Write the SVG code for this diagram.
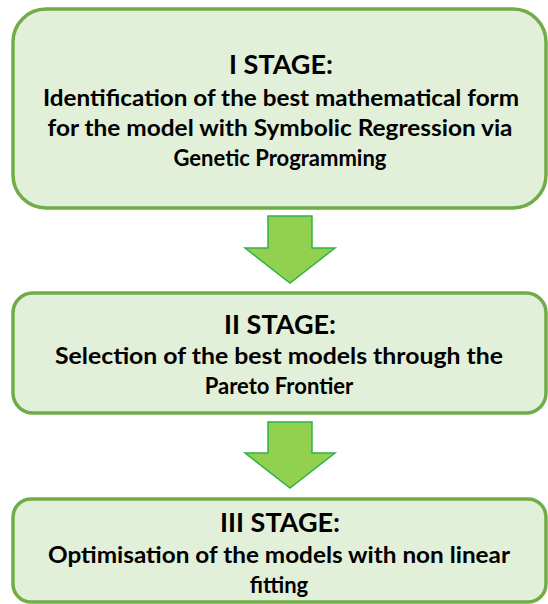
<svg xmlns="http://www.w3.org/2000/svg" width="548" height="604" viewBox="0 0 548 604">
<style>
.box{fill:#e2efd9;stroke:#70ad47;stroke-width:3.5}
.arrow{fill:#92d050;stroke:#2fb34a;stroke-width:1.5;stroke-linejoin:miter}
text{font-family:Lato,"Open Sans","Liberation Sans",sans-serif;font-weight:bold;fill:#000;text-anchor:middle}
.t{font-size:27px}
.b{font-size:22px}
</style>
<rect width="548" height="604" fill="#ffffff"/>
<g id="stage1">
<rect class="box" x="13" y="9" width="533" height="199" rx="33" ry="33"/>
<text class="t" x="281" y="74">I STAGE:</text>
<text class="b" x="281" y="106" textLength="476" lengthAdjust="spacingAndGlyphs">Identification of the best mathematical form</text>
<text class="b" x="280" y="136" textLength="465" lengthAdjust="spacingAndGlyphs">for the model with Symbolic Regression via</text>
<text class="b" x="280" y="166">Genetic Programming</text>
</g>
<g id="stage2">
<rect class="box" x="13" y="293" width="533" height="120" rx="20" ry="20"/>
<text class="t" x="280" y="334">II STAGE:</text>
<text class="b" x="279" y="364" textLength="448" lengthAdjust="spacingAndGlyphs">Selection of the best models through the</text>
<text class="b" x="279" y="394">Pareto Frontier</text>
</g>
<g id="stage3">
<rect class="box" x="13" y="499" width="533" height="103" rx="18" ry="18"/>
<text class="t" x="280" y="532">III STAGE:</text>
<text class="b" x="279" y="563" textLength="462" lengthAdjust="spacingAndGlyphs">Optimisation of the models with non linear</text>
<text class="b" x="279" y="593">fitting</text>
</g>
<g id="connectors">
<polygon class="arrow" points="268,216 312,216 312,248 335,248 290,283 245,248 268,248"/>
<polygon class="arrow" points="268,422 312,422 312,453 335,453 290,488 245,453 268,453"/>
</g>
</svg>
